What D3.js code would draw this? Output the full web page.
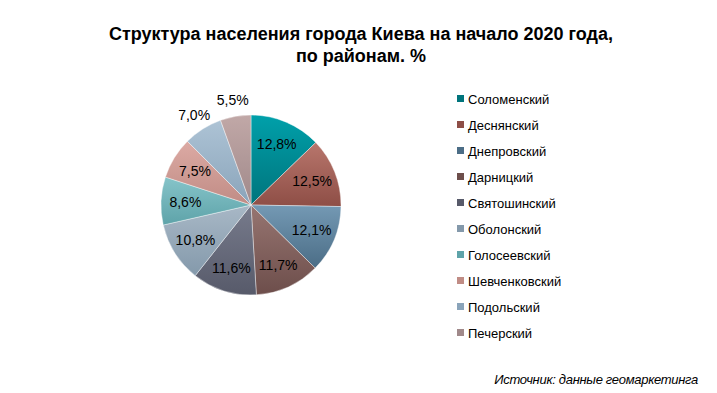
<!DOCTYPE html>
<html>
<head>
<meta charset="utf-8">
<script src="https://cdn.jsdelivr.net/npm/d3@7"></script>
<style>
  body { margin: 0; background: #fff; }
  svg { display: block; font-family: Arial, "Liberation Sans", sans-serif; }
</style>
</head>
<body>
<div id="chart"></div>
<script>
// districts and shares, %
var districts = ["Соломенский", "Деснянский", "Днепровский", "Дарницкий", "Святошинский",
  "Оболонский", "Голосеевский", "Шевченковский", "Подольский", "Печерский"];
var shares = [12.8, 12.5, 12.1, 11.7, 11.6, 10.8, 8.6, 7.5, 7.0, 5.5];
var lightColors = ["#00a0aa", "#b8766c", "#7499b4", "#977571", "#777b8c",
  "#a8b8c6", "#86c4c9", "#dcaaa4", "#adc3d5", "#c1a8a7"];
var darkColors = ["#00747c", "#8e4e46", "#4b6d86", "#6d4e4b", "#575a6a",
  "#8499ab", "#5ea3a9", "#c08c85", "#8aa4ba", "#a0898a"];

var w = 717, h = 393;
var cx = 251, cy = 205, R = 90;

var svg = d3.select("#chart").append("svg")
  .attr("width", w).attr("height", h);

var defs = svg.append("defs");
districts.forEach(function(d, i) {
  var g = defs.append("linearGradient").attr("id", "grad" + i)
    .attr("x1", 0).attr("y1", 0).attr("x2", 0).attr("y2", 1);
  g.append("stop").attr("offset", "0%").attr("stop-color", lightColors[i]);
  g.append("stop").attr("offset", "100%").attr("stop-color", darkColors[i]);
});

// title
svg.append("text").attr("x", 361).attr("y", 40).attr("text-anchor", "middle")
  .attr("font-size", 18).attr("font-weight", "bold").attr("fill", "#000")
  .text("Структура населения города Киева на начало 2020 года,");
svg.append("text").attr("x", 361).attr("y", 62).attr("text-anchor", "middle")
  .attr("font-size", 18).attr("font-weight", "bold").attr("fill", "#000")
  .text("по районам. %");

var data = districts.map(function(d, i) { return { name: d, value: shares[i], i: i }; });

var pie = d3.pie().sort(null).value(function(d) { return d.value; });
var arcs = pie(data);
var arc = d3.arc().innerRadius(0).outerRadius(R);
var labelArc = d3.arc().innerRadius(R * 0.73).outerRadius(R * 0.73);
var outerArc = d3.arc().innerRadius(R * 1.18).outerRadius(R * 1.18);

var container = svg.append("g")
  .attr("transform", "translate(" + cx + "," + cy + ")");

container.selectAll("path").data(arcs).enter().append("path")
  .attr("d", arc)
  .attr("fill", function(d) { return "url(#grad" + d.data.i + ")"; })
  .attr("stroke", "#fff").attr("stroke-width", 0.4);

var fmt = function(v) { return v.toFixed(1).replace(".", ",") + "%"; };

container.selectAll("text.lbl").data(arcs).enter().append("text")
  .attr("class", "lbl")
  .attr("transform", function(d) {
    var p = d.data.value <= 7 ? outerArc.centroid(d) : labelArc.centroid(d);
    return "translate(" + p + ")";
  })
  .attr("text-anchor", "middle").attr("dy", "0.35em")
  .attr("font-size", 14).attr("fill", "#000")
  .text(function(d) { return fmt(d.data.value); });

// legend
var legend = svg.append("g").attr("transform", "translate(457,99)");
var rows = legend.selectAll("g").data(data).enter().append("g")
  .attr("transform", function(d, i) { return "translate(0," + (i * 26) + ")"; });
rows.append("rect").attr("x", 0).attr("y", -4).attr("width", 7).attr("height", 7)
  .attr("fill", function(d) { return darkColors[d.i]; });
rows.append("text").attr("x", 11).attr("y", 0).attr("dy", "0.35em")
  .attr("font-size", 13).attr("fill", "#000")
  .text(function(d) { return d.name; });

// source
svg.append("text").attr("x", 698).attr("y", 384).attr("text-anchor", "end")
  .attr("font-size", 13).attr("font-style", "italic").attr("fill", "#000")
  .attr("letter-spacing", -0.3)
  .text("Источник: данные геомаркетинга");
</script>
</body>
</html>
